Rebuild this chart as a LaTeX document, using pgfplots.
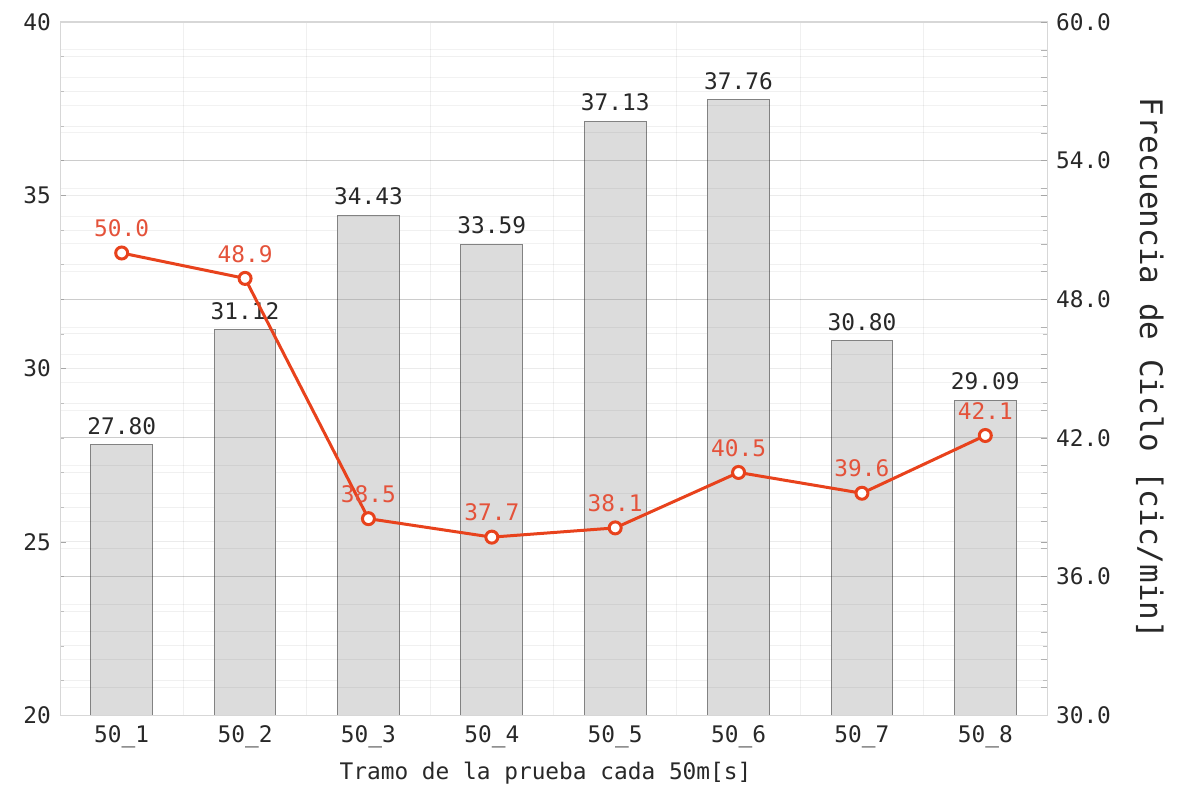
\documentclass[border=0pt]{standalone}
\usepackage{pgfplots}
\pgfplotsset{compat=1.18}
\usepackage{pgfplotstable}
\usepackage{fontspec}
\setmainfont{DejaVu Sans Mono}
\setmonofont{DejaVu Sans Mono}
\definecolor{barfill}{RGB}{220,220,220}
\definecolor{baredge}{RGB}{130,130,130}
\definecolor{lred}{RGB}{232,66,28}
\definecolor{labred}{RGB}{228,82,58}
\definecolor{axgray}{RGB}{215,215,215}
\definecolor{txt}{RGB}{40,40,40}

\pgfplotstableread{
x y lab
0 27.80 27.80
1 31.12 31.12
2 34.43 34.43
3 33.59 33.59
4 37.13 37.13
5 37.76 37.76
6 30.80 30.80
7 29.09 29.09
}\bartab
\pgfplotstableread{
x y lab
0 50.0 50.0
1 48.9 48.9
2 38.5 38.5
3 37.7 37.7
4 38.1 38.1
5 40.5 40.5
6 39.6 39.6
7 42.1 42.1
}\linetab

\newcommand\tfont{\fontsize{11.4}{13}\selectfont}

\begin{document}
\begin{tikzpicture}
\begin{axis}[
  scale only axis, width=493.5pt, height=346.5pt,
  xmin=-0.5, xmax=7.5, ymin=20, ymax=40,
  xtick={0,...,7},
  xticklabels={50\_1,50\_2,50\_3,50\_4,50\_5,50\_6,50\_7,50\_8},
  minor xtick={0.5,1.5,...,6.5},
  xminorgrids, ymajorgrids, yminorgrids,
  ytick={20,25,30,35,40}, yticklabels={20,25,30,35,40},
  minor y tick num=4,
  axis line style={axgray},
  tick align=inside, major tick length=3pt, minor tick length=2pt,
  xtick style={draw=none},
  minor x tick style={draw=none},
  ytick style={black!35},
  minor y tick style={black!25},
  major grid style={black,opacity=0.08},
  minor grid style={black,opacity=0.06},
  ticklabel style={font=\tfont, text=txt},
  yticklabel style={xshift=-1pt},
  xticklabel style={yshift=-2pt},
  clip=true,
]
\addplot[ybar, bar width=0.5, fill=barfill, draw=baredge, line width=0.5pt,
  point meta=explicit symbolic, nodes near coords,
  nodes near coords style={font=\tfont, text=txt, anchor=south, yshift=1.5pt}]
  table[x=x, y=y, meta=lab]{\bartab};
\coordinate (ll) at (rel axis cs:0,0);
\coordinate (ur) at (rel axis cs:1,1);
\coordinate (rr) at (rel axis cs:1,0.5);
\coordinate (bc) at (rel axis cs:0.5,0);
\end{axis}
\begin{axis}[
  scale only axis, width=493.5pt, height=346.5pt,
  xmin=-0.5, xmax=7.5, ymin=30, ymax=60,
  axis y line*=right, axis x line=none, xtick=\empty,
  ytick={30,36,42,48,54,60},
  yticklabels={30.0,36.0,42.0,48.0,54.0,60.0},
  minor y tick num=4,
  yminorgrids,
  extra y ticks={36,42,48,54},
  extra y tick labels={},
  extra y tick style={ymajorgrids=true, major grid style={black,opacity=0.15}},
  axis line style={axgray},
  tick align=inside, major tick length=3pt, minor tick length=3pt,
  ytick style={black!35},
  minor y tick style={black!30},
  minor grid style={black,opacity=0.05},
  ticklabel style={font=\tfont, text=txt},
  yticklabel style={xshift=1pt},
]
\addplot[draw=none, point meta=explicit symbolic, nodes near coords,
  nodes near coords style={font=\tfont, text=labred, anchor=south, yshift=4.5pt}]
  table[x=x, y=y, meta=lab]{\linetab};
\addplot[lred, line width=1.5pt, mark=*, mark size=3pt,
  mark options={fill=white, draw=lred, line width=1.5pt}]
  table[x=x, y=y]{\linetab};
\end{axis}
\draw[axgray, line width=0.5pt] (ll) rectangle (ur);
\node[font=\tfont, text=txt] at ([xshift=-4pt,yshift=-29pt]bc) {Tramo de la prueba cada 50m[s]};
\node[rotate=-90, font=\fontsize{15.5}{18}\selectfont, text=txt] at ([xshift=51.5pt]rr) {Frecuencia de Ciclo [cic/min]};
\pgfresetboundingbox
\path[use as bounding box] ([xshift=-30pt,yshift=-37pt]ll) rectangle ([xshift=70pt,yshift=11pt]ur);
\end{tikzpicture}
\end{document}
